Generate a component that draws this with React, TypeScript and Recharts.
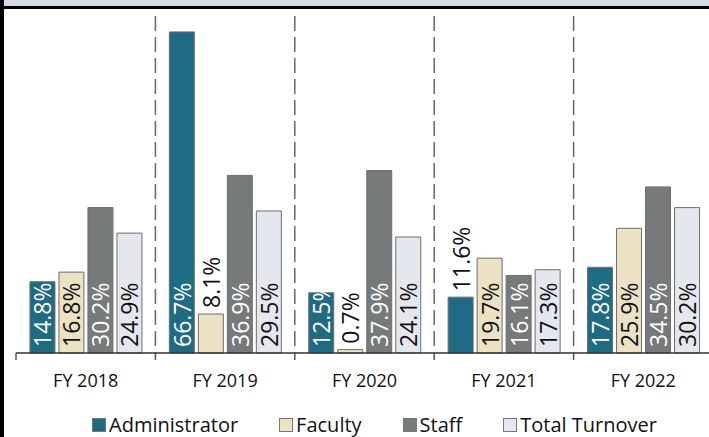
import React from 'react';
import { BarChart, Bar, XAxis, YAxis, CartesianGrid, Legend, LabelList, Customized } from 'recharts';

const categories = ['FY 2018', 'FY 2019', 'FY 2020', 'FY 2021', 'FY 2022'];
const administrator = [14.8, 66.7, 12.5, 11.6, 17.8];
const faculty = [16.8, 8.1, 0.7, 19.7, 25.9];
const staff = [30.2, 36.9, 37.9, 16.1, 34.5];
const totalTurnover = [24.9, 29.5, 24.1, 17.3, 30.2];

const series = [
    { key: 'administrator', name: 'Administrator', color: '#1f6b84', text: '#ffffff' },
    { key: 'faculty', name: 'Faculty', color: '#ebe1c3', text: '#111111' },
    { key: 'staff', name: 'Staff', color: '#777a7b', text: '#ffffff' },
    { key: 'totalTurnover', name: 'Total Turnover', color: '#e4e7ee', text: '#111111' },
];

const chartData = categories.map((cat, i) => ({
    category: cat,
    administrator: administrator[i],
    faculty: faculty[i],
    staff: staff[i],
    totalTurnover: totalTurnover[i],
}));

const FONT = '"Open Sans", "Noto Sans", sans-serif';

// labels sit at the bar base, short bars get theirs above the bar
const makeLabel = (textColor: string) => (props: any) => {
    const x = Number(props.x);
    const y = Number(props.y);
    const w = Number(props.width);
    const h = Number(props.height);
    const value = Number(props.value);
    const cx = x + w / 2;
    const outside = value < 12;
    const startY = outside ? y - 6 : y + h - 6;
    return (
        <text
            x={cx}
            y={startY}
            transform={`rotate(-90 ${cx} ${startY})`}
            textAnchor="start"
            dominantBaseline="central"
            fontFamily={FONT}
            fontSize={23}
            fill={outside ? '#111111' : textColor}
        >
            {value.toFixed(1)}%
        </text>
    );
};

const CategoryTick = (props: any) => {
    const { x, y, payload } = props;
    const half = payload && payload.offset ? payload.offset : 69.7;
    return (
        <g>
            <line x1={x - half} y1={y} x2={x - half} y2={y + 7} stroke="#555" strokeWidth={1.5} />
            <text x={x} y={y + 34} textAnchor="middle" fontFamily={FONT} fontSize={18} fill="#111">
                {payload.value}
            </text>
        </g>
    );
};

// slide frame: grey strip on top, black rule under it, black left edge
const Frame = () => (
    <g>
        <rect x={0} y={0} width={720} height={6} fill="#d6dce4" />
        <rect x={0} y={6} width={720} height={3} fill="#000" />
        <rect x={0} y={0} width={4} height={437} fill="#000" />
    </g>
);

const renderLegend = () => (
    <div style={{ display: 'flex', justifyContent: 'center', alignItems: 'center', fontFamily: FONT, fontSize: 20, color: '#111' }}>
        {series.map((s, i) => (
            <div key={s.key} style={{ display: 'flex', alignItems: 'center', marginLeft: i === 0 ? 0 : 41 }}>
                <span style={{ width: 12, height: 12, background: s.color, border: '1px solid #777', marginRight: 3, display: 'inline-block' }} />
                <span>{s.name}</span>
            </div>
        ))}
    </div>
);

export default function App() {
    return (
        <div style={{ position: 'fixed', left: 0, top: 0, width: 709, height: 437, overflow: 'hidden', background: '#fff' }}>
            <BarChart
                width={720}
                height={437}
                data={chartData}
                margin={{ top: 16, right: 7, left: 16, bottom: 34 }}
                barCategoryGap="10%"
                barGap={4}
            >
                <CartesianGrid
                    horizontal={false}
                    vertical={true}
                    stroke="#666"
                    strokeWidth={1.5}
                    strokeDasharray="15 6"
                    verticalCoordinatesGenerator={({ offset }: any) =>
                        [1, 2, 3, 4].map(i => offset.left + (i * offset.width) / categories.length)
                    }
                />
                <XAxis
                    dataKey="category"
                    height={50}
                    tickLine={false}
                    tickSize={0}
                    tickMargin={0}
                    axisLine={{ stroke: '#333', strokeWidth: 1.5 }}
                    tick={<CategoryTick />}
                    interval={0}
                />
                <YAxis hide domain={[0, 70]} />
                <Legend
                    verticalAlign="middle"
                    align="center"
                    layout="horizontal"
                    content={renderLegend}
                    wrapperStyle={{ top: 411, left: 20, width: 709 }}
                />
                {series.map(s => (
                    <Bar
                        key={s.key}
                        dataKey={s.key}
                        name={s.name}
                        fill={s.color}
                        stroke="#6e6e6e"
                        strokeWidth={1}
                        isAnimationActive={false}
                    >
                        <LabelList dataKey={s.key} content={makeLabel(s.text)} />
                    </Bar>
                ))}
                <Customized component={<Frame />} />
            </BarChart>
        </div>
    );
}
